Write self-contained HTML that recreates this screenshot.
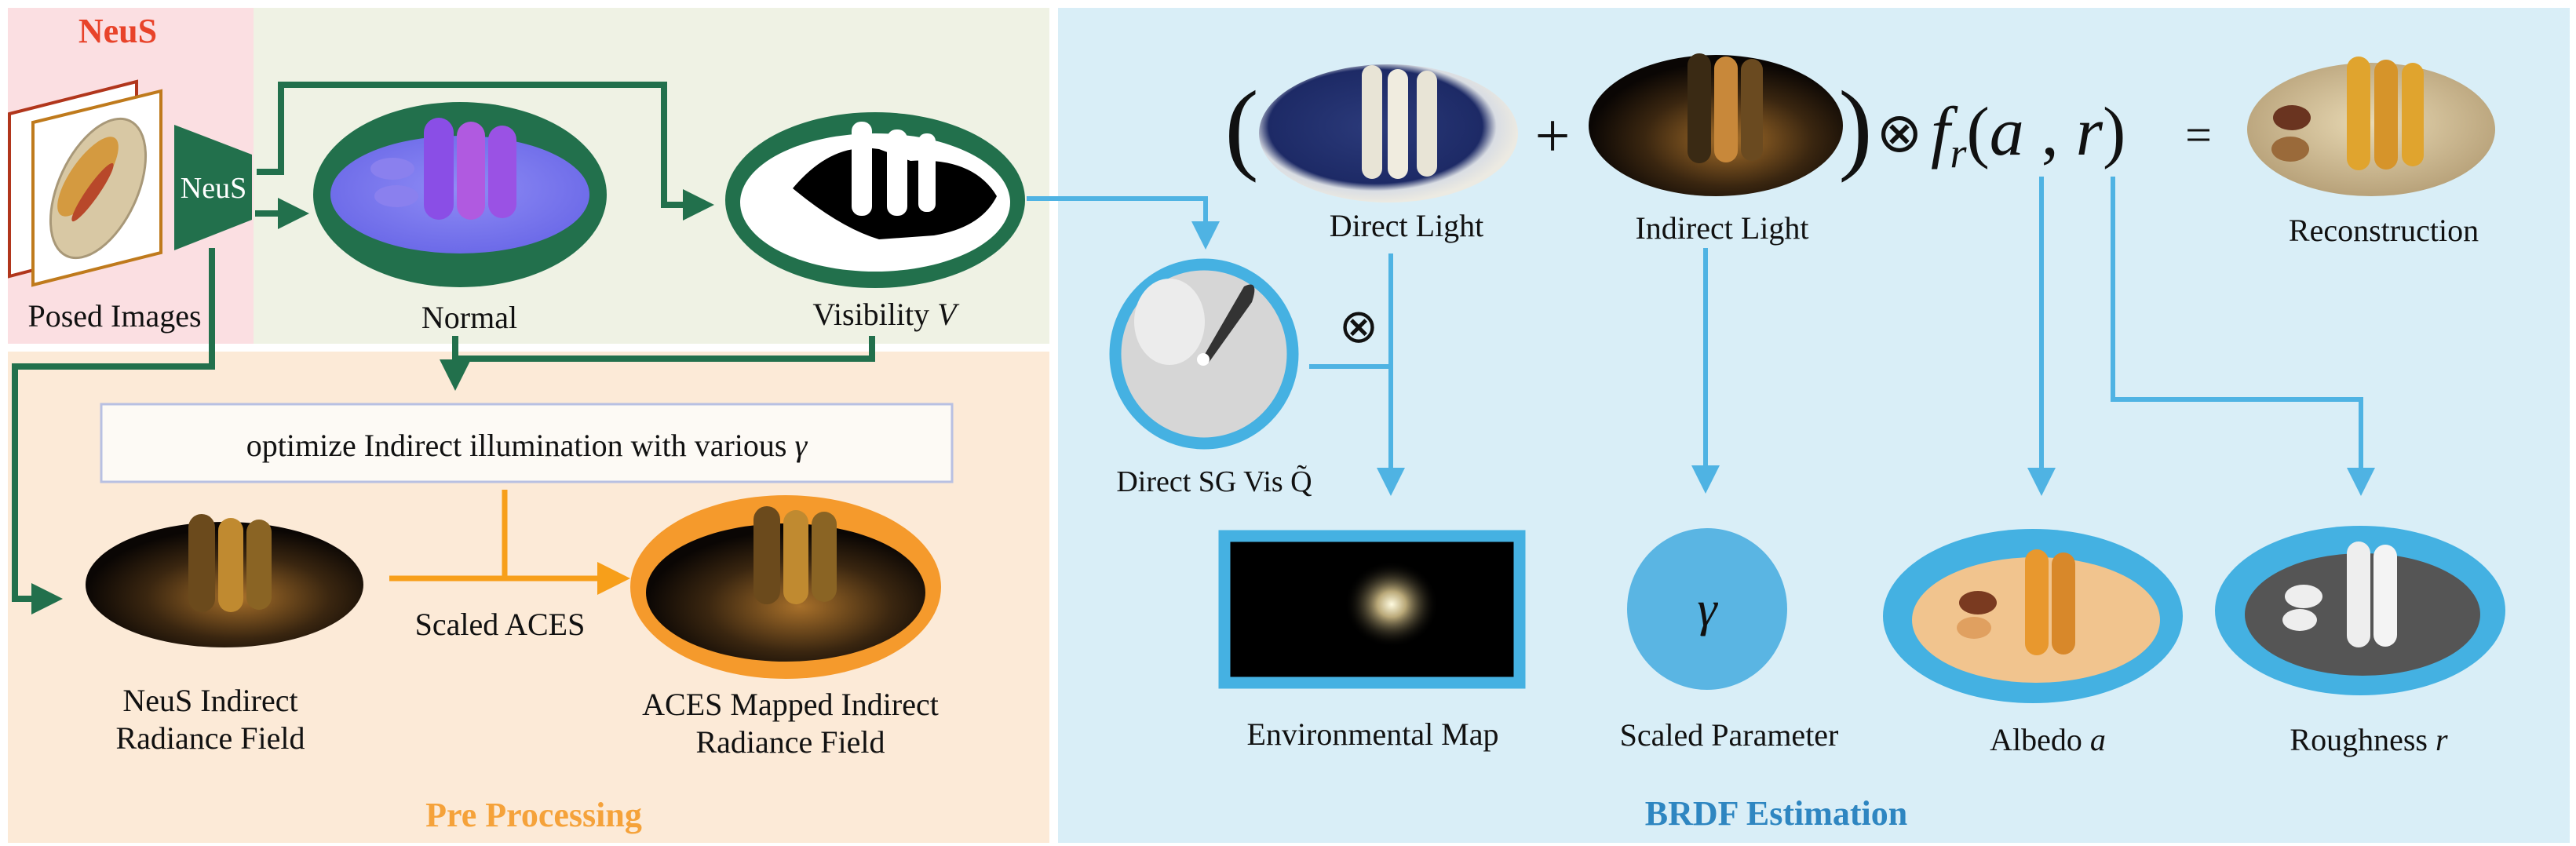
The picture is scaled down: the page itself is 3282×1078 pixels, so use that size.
<!DOCTYPE html>
<html><head><meta charset="utf-8"><style>
html,body{margin:0;padding:0;background:#fff;}
svg{display:block;}
text{font-family:"Liberation Serif",serif;}
</style></head><body>
<svg width="3282" height="1078" viewBox="0 0 3282 1078" xmlns="http://www.w3.org/2000/svg">
<defs>
<marker id="ag" markerWidth="5" markerHeight="5" refX="2.5" refY="2.5" orient="auto" markerUnits="strokeWidth"><path d="M0,0 L5,2.5 L0,5 z" fill="#22704c"/></marker>
<marker id="ab" markerWidth="6" markerHeight="6" refX="3" refY="3" orient="auto" markerUnits="strokeWidth"><path d="M0,0 L6,3 L0,6 z" fill="#4fb3e3"/></marker>
<marker id="ao" markerWidth="6" markerHeight="6" refX="3" refY="3" orient="auto" markerUnits="strokeWidth"><path d="M0,0 L6,3 L0,6 z" fill="#f79f1a"/></marker>
<radialGradient id="nrm" cx="50%" cy="45%" r="55%"><stop offset="0" stop-color="#8f8cf5"/><stop offset="1" stop-color="#6c6ae8"/></radialGradient>
<radialGradient id="ind" cx="55%" cy="60%" r="55%"><stop offset="0" stop-color="#a8702a"/><stop offset="0.6" stop-color="#3a2610"/><stop offset="1" stop-color="#0a0604"/></radialGradient>
<radialGradient id="glow" cx="50%" cy="50%" r="50%"><stop offset="0" stop-color="#fffbe0"/><stop offset="0.3" stop-color="#b9a878"/><stop offset="1" stop-color="#000" stop-opacity="0"/></radialGradient>
<radialGradient id="rec" cx="50%" cy="45%" r="55%"><stop offset="0" stop-color="#e8d9b4"/><stop offset="1" stop-color="#b8a27a"/></radialGradient>
<radialGradient id="dl" cx="45%" cy="45%" r="55%"><stop offset="0" stop-color="#2b3a7a"/><stop offset="0.75" stop-color="#1d2a66"/><stop offset="0.85" stop-color="#d9dde3"/><stop offset="1" stop-color="#eceae2"/></radialGradient>
</defs>

<rect x="10" y="10" width="313" height="428" fill="#fbdfe2"/>
<rect x="323" y="10" width="1014" height="428" fill="#eff2e4"/>
<rect x="10" y="448" width="1327" height="626" fill="#fcead7"/>
<rect x="1348" y="10" width="1926" height="1064" fill="#d9eef7"/>

<text x="150" y="54" font-size="44" font-weight="bold" fill="#e8432a" text-anchor="middle">NeuS</text>

<polygon points="12,145 174,104 174,310 12,352" fill="#fff" stroke="#b1361c" stroke-width="4"/>
<polygon points="42,156 205,116 205,322 42,363" fill="#fff" stroke="#bf7a1c" stroke-width="4"/>
<ellipse cx="125" cy="240" rx="50" ry="95" transform="rotate(25 125 240)" fill="#d8c8a4" stroke="#a89878" stroke-width="3"/>
<ellipse cx="112" cy="225" rx="22" ry="60" transform="rotate(35 112 225)" fill="#d49a40"/>
<ellipse cx="118" cy="245" rx="8" ry="45" transform="rotate(35 118 245)" fill="#b8482a"/>
<polygon points="222,159 321,197 321,280 222,319" fill="#22704c"/>
<text x="272" y="252" font-size="38" fill="#fff" text-anchor="middle">NeuS</text>
<text x="146" y="416" font-size="40" fill="#111" text-anchor="middle">Posed Images</text>

<ellipse cx="586" cy="248" rx="187" ry="118" fill="#22704c"/>
<ellipse cx="586" cy="248" rx="165" ry="75" fill="url(#nrm)"/>
<rect x="540" y="150" width="38" height="130" rx="19" fill="#8a4ee6"/>
<rect x="582" y="155" width="36" height="125" rx="18" fill="#b05ae0"/>
<rect x="622" y="160" width="36" height="118" rx="18" fill="#9a52e4"/>
<ellipse cx="500" cy="215" rx="28" ry="14" fill="#8a80ee"/>
<ellipse cx="505" cy="250" rx="28" ry="14" fill="#8a80ee"/>
<text x="598" y="418" font-size="40" fill="#111" text-anchor="middle">Normal</text>

<ellipse cx="1115" cy="255" rx="191" ry="112" fill="#22704c"/>
<ellipse cx="1115" cy="258" rx="172" ry="88" fill="#fff"/>
<path d="M1010,240 Q1060,180 1120,190 L1160,205 Q1240,200 1270,250 Q1250,290 1190,300 L1120,305 Q1070,290 1010,240 z" fill="#000"/>
<rect x="1085" y="155" width="26" height="120" rx="12" fill="#fff"/>
<rect x="1130" y="165" width="26" height="110" rx="12" fill="#fff"/>
<rect x="1170" y="170" width="22" height="100" rx="10" fill="#fff"/>
<text x="1127" y="414" font-size="40" fill="#111" text-anchor="middle">Visibility <tspan font-style="italic">V</tspan></text>

<polyline points="327,219 358,219 358,108 846,108 846,261 890,261" fill="none" stroke="#22704c" stroke-width="8" marker-end="url(#ag)"/>
<line x1="325" y1="272" x2="374" y2="272" stroke="#22704c" stroke-width="8" marker-end="url(#ag)"/>
<polyline points="270,316 270,467 19,467 19,763 60,763" fill="none" stroke="#22704c" stroke-width="8" marker-end="url(#ag)"/>
<polyline points="1111,428 1111,457 580,457" fill="none" stroke="#22704c" stroke-width="8"/>
<line x1="580" y1="428" x2="580" y2="478" stroke="#22704c" stroke-width="8" marker-end="url(#ag)"/>

<rect x="129" y="515" width="1084" height="99" fill="#fdfaf5" stroke="#b8c0e2" stroke-width="3"/>
<text x="671" y="581" font-size="40" fill="#111" text-anchor="middle">optimize Indirect illumination with various <tspan font-style="italic">γ</tspan></text>

<line x1="643" y1="624" x2="643" y2="737" stroke="#f79f1a" stroke-width="7"/>
<line x1="496" y1="737" x2="782" y2="737" stroke="#f79f1a" stroke-width="7" marker-end="url(#ao)"/>
<text x="637" y="809" font-size="40" fill="#111" text-anchor="middle">Scaled ACES</text>

<ellipse cx="286" cy="745" rx="177" ry="80" fill="url(#ind)"/>
<rect x="240" y="655" width="34" height="125" rx="17" fill="#6b4a1c"/>
<rect x="278" y="660" width="32" height="120" rx="16" fill="#c08a30"/>
<rect x="314" y="662" width="32" height="115" rx="16" fill="#8a6424"/>
<text x="268" y="906" font-size="40" fill="#111" text-anchor="middle">NeuS Indirect</text>
<text x="268" y="954" font-size="40" fill="#111" text-anchor="middle">Radiance Field</text>

<ellipse cx="1001" cy="748" rx="198" ry="117" fill="#f59a2c"/>
<ellipse cx="1001" cy="755" rx="178" ry="88" fill="url(#ind)"/>
<rect x="960" y="645" width="34" height="125" rx="17" fill="#6b4a1c"/>
<rect x="998" y="650" width="32" height="120" rx="16" fill="#c08a30"/>
<rect x="1034" y="652" width="32" height="115" rx="16" fill="#8a6424"/>
<text x="1007" y="911" font-size="40" fill="#111" text-anchor="middle">ACES Mapped Indirect</text>
<text x="1007" y="959" font-size="40" fill="#111" text-anchor="middle">Radiance Field</text>
<text x="680" y="1053" font-size="44" font-weight="bold" fill="#f5a23a" text-anchor="middle">Pre Processing</text>

<text x="1582" y="205" font-size="130" fill="#111" text-anchor="middle">(</text>
<ellipse cx="1769" cy="170" rx="165" ry="88" fill="url(#dl)"/>
<rect x="1735" y="83" width="26" height="145" rx="13" fill="#e8e4d6"/>
<rect x="1768" y="88" width="26" height="140" rx="13" fill="#f0ecdf"/>
<rect x="1805" y="90" width="26" height="135" rx="13" fill="#e8e4d6"/>
<text x="1978" y="200" font-size="80" fill="#111" text-anchor="middle">+</text>
<ellipse cx="2186" cy="160" rx="162" ry="90" fill="url(#ind)"/>
<rect x="2150" y="68" width="30" height="140" rx="15" fill="#3a2a14"/>
<rect x="2184" y="72" width="30" height="135" rx="15" fill="#c8883a"/>
<rect x="2218" y="75" width="28" height="130" rx="14" fill="#6a4a20"/>
<text x="2364" y="205" font-size="130" fill="#111" text-anchor="middle">)</text>
<text x="2420" y="193" font-size="70" fill="#111" text-anchor="middle">⊗</text>
<text x="2460" y="197" font-size="88" fill="#111" font-style="italic">f<tspan font-size="54" dy="16">r</tspan><tspan dy="-16" font-style="normal">(</tspan>a<tspan font-style="normal"> , </tspan>r<tspan font-style="normal">)</tspan></text>
<text x="2801" y="192" font-size="60" fill="#111" text-anchor="middle">=</text>
<ellipse cx="3021" cy="165" rx="158" ry="85" fill="url(#rec)"/>
<rect x="2990" y="72" width="30" height="145" rx="15" fill="#e0a42e"/>
<rect x="3025" y="76" width="30" height="140" rx="15" fill="#d6942a"/>
<rect x="3060" y="80" width="28" height="132" rx="14" fill="#e0a42e"/>
<ellipse cx="2920" cy="150" rx="24" ry="16" fill="#6a3420"/>
<ellipse cx="2918" cy="190" rx="24" ry="16" fill="#9a6a3a"/>
<text x="1792" y="301" font-size="40" fill="#111" text-anchor="middle">Direct Light</text>
<text x="2194" y="304" font-size="40" fill="#111" text-anchor="middle">Indirect Light</text>
<text x="3037" y="307" font-size="40" fill="#111" text-anchor="middle">Reconstruction</text>

<polyline points="1308,253 1536,253 1536,300" fill="none" stroke="#4fb3e3" stroke-width="6" marker-end="url(#ab)"/>
<line x1="1772" y1="323" x2="1772" y2="614" stroke="#4fb3e3" stroke-width="6" marker-end="url(#ab)"/>
<line x1="1668" y1="467" x2="1772" y2="467" stroke="#4fb3e3" stroke-width="6"/>
<line x1="2173" y1="316" x2="2173" y2="611" stroke="#4fb3e3" stroke-width="6" marker-end="url(#ab)"/>
<line x1="2601" y1="225" x2="2601" y2="614" stroke="#4fb3e3" stroke-width="6" marker-end="url(#ab)"/>
<polyline points="2692,225 2692,509 3008,509 3008,614" fill="none" stroke="#4fb3e3" stroke-width="6" marker-end="url(#ab)"/>

<ellipse cx="1534" cy="451" rx="113" ry="114" fill="#d6d6d6" stroke="#45b1e2" stroke-width="15"/>
<ellipse cx="1490" cy="410" rx="45" ry="55" fill="#ececec"/>
<path d="M1530,460 L1585,365 Q1605,355 1595,385 L1540,462 z" fill="#333"/>
<circle cx="1533" cy="458" r="8" fill="#fff"/>
<text x="1731" y="436" font-size="60" fill="#111" text-anchor="middle">⊗</text>
<text x="1547" y="626" font-size="38" fill="#111" text-anchor="middle">Direct SG Vis  Q̃</text>

<rect x="1560" y="683" width="376" height="187" fill="#000" stroke="#45b1e2" stroke-width="15"/>
<ellipse cx="1773" cy="770" rx="60" ry="55" fill="url(#glow)"/>
<text x="1749" y="949" font-size="40" fill="#111" text-anchor="middle">Environmental Map</text>

<ellipse cx="2175" cy="776" rx="102" ry="103" fill="#5ab5e3"/>
<text x="2175" y="797" font-size="64" fill="#111" text-anchor="middle" font-style="italic">γ</text>
<text x="2203" y="950" font-size="40" fill="#111" text-anchor="middle">Scaled Parameter</text>

<ellipse cx="2590" cy="785" rx="191" ry="111" fill="#44b1e2"/>
<ellipse cx="2594" cy="790" rx="158" ry="80" fill="#f1c48e"/>
<rect x="2580" y="700" width="30" height="135" rx="15" fill="#e8982e"/>
<rect x="2614" y="704" width="30" height="130" rx="15" fill="#d8882a"/>
<ellipse cx="2520" cy="768" rx="24" ry="15" fill="#7a3a20"/>
<ellipse cx="2515" cy="800" rx="22" ry="14" fill="#e0a060"/>
<text x="2609" y="956" font-size="40" fill="#111" text-anchor="middle">Albedo <tspan font-style="italic">a</tspan></text>

<ellipse cx="3007" cy="778" rx="185" ry="108" fill="#44b1e2"/>
<ellipse cx="3010" cy="783" rx="150" ry="78" fill="#555"/>
<rect x="2990" y="690" width="30" height="135" rx="15" fill="#eee"/>
<rect x="3024" y="694" width="30" height="130" rx="15" fill="#f4f4f4"/>
<ellipse cx="2935" cy="760" rx="24" ry="15" fill="#eee"/>
<ellipse cx="2930" cy="790" rx="22" ry="14" fill="#eee"/>
<text x="3018" y="956" font-size="40" fill="#111" text-anchor="middle">Roughness <tspan font-style="italic">r</tspan></text>

<text x="2263" y="1051" font-size="44" font-weight="bold" fill="#2e86c1" text-anchor="middle">BRDF Estimation</text>
</svg>
</body></html>
